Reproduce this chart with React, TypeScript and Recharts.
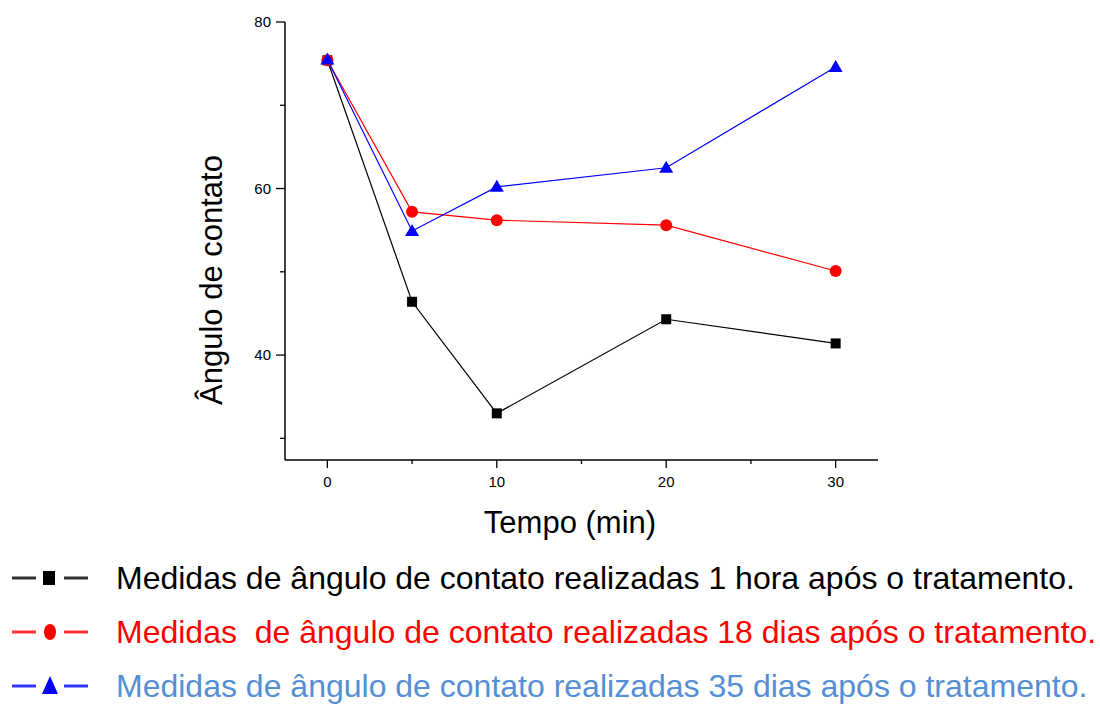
import { Line, LineChart, XAxis, YAxis } from 'recharts';

// tempo de espera (min) e ângulo de contato medido (graus)
const tempos = [0, 5, 10, 20, 30];
const medida1Hora = [75.4, 46.4, 33.0, 44.3, 41.4];
const medida18Dias = [75.4, 57.2, 56.2, 55.6, 50.1];
const medida35Dias = [75.5, 54.9, 60.2, 62.5, 74.6];

const yTicks = [30, 40, 50, 60, 70, 80];
const yLabeled = [40, 60, 80];
const xTicks = [0, 5, 10, 15, 20, 25, 30];
const xLabeled = [0, 10, 20, 30];

const legendItems = [
  { label: 'Medidas de ângulo de contato realizadas 1 hora após o tratamento.', line: '#000000', text: '#000000', shape: 'square' },
  { label: 'Medidas  de ângulo de contato realizadas 18 dias após o tratamento.', line: '#ff0000', text: '#ff0000', shape: 'circle' },
  { label: 'Medidas de ângulo de contato realizadas 35 dias após o tratamento.', line: '#0000ff', text: '#558ed5', shape: 'triangle' },
];

const data = tempos.map((t, i) => ({
  t,
  a: medida1Hora[i],
  b: medida18Dias[i],
  c: medida35Dias[i],
}));

const FONT = 'Arial, "Liberation Sans", sans-serif';

const SquareDot = (props: any) => {
  const { cx, cy, index } = props;
  if (cx == null || cy == null) return null;
  return <rect key={`s${index}`} x={cx - 5} y={cy - 5} width={10} height={10} fill="#000" />;
};

const CircleDot = (props: any) => {
  const { cx, cy, index } = props;
  if (cx == null || cy == null) return null;
  return <circle key={`c${index}`} cx={cx} cy={cy} r={6} fill="#ff0000" />;
};

const TriangleDot = (props: any) => {
  const { cx, cy, index } = props;
  if (cx == null || cy == null) return null;
  return (
    <polygon
      key={`t${index}`}
      points={`${cx},${cy - 7} ${cx - 7},${cy + 5} ${cx + 7},${cy + 5}`}
      fill="#0000ff"
    />
  );
};

const YTick = (props: any) => {
  const { x, y, payload } = props;
  const major = yLabeled.includes(payload.value);
  return (
    <g>
      <line x1={x} x2={x - (major ? 9 : 5)} y1={y} y2={y} stroke="#000" strokeWidth={1.3} />
      {major && (
        <text x={x - 14} y={y} dy={5} textAnchor="end" fontSize={15} fontFamily={FONT} fill="#000">
          {payload.value}
        </text>
      )}
    </g>
  );
};

const XTick = (props: any) => {
  const { x, y, payload } = props;
  const major = xLabeled.includes(payload.value);
  return (
    <g>
      <line x1={x} x2={x} y1={y} y2={y + (major ? 8 : 4)} stroke="#000" strokeWidth={1.3} />
      {major && (
        <text x={x} y={y + 27} textAnchor="middle" fontSize={15} fontFamily={FONT} fill="#000">
          {payload.value}
        </text>
      )}
    </g>
  );
};

function LegendMarker({ shape, color }: { shape: string; color: string }) {
  return (
    <svg width={80} height={24} style={{ position: 'absolute', left: 10, top: -12 }}>
      <line x1={2} x2={26} y1={12} y2={12} stroke={color} strokeWidth={3} opacity={0.8} />
      <line x1={54} x2={78} y1={12} y2={12} stroke={color} strokeWidth={3} opacity={0.8} />
      {shape === 'square' && <rect x={33} y={5} width={12} height={14} fill={color} />}
      {shape === 'circle' && <ellipse cx={40} cy={12} rx={6} ry={8} fill={color} />}
      {shape === 'triangle' && <polygon points="40,2 32,20 48,20" fill={color} />}
    </svg>
  );
}

export default function App() {
  return (
    <div style={{ position: 'absolute', left: 0, top: 0, width: 1100, height: 704, background: '#fff', fontFamily: FONT }}>
      <LineChart
        width={1100}
        height={500}
        data={data}
        margin={{ top: 22, right: 222, bottom: 0, left: 225 }}
      >
        <XAxis
          dataKey="t"
          type="number"
          domain={[-2.5, 32.5]}
          ticks={xTicks}
          interval={0}
          tick={<XTick />}
          tickLine={false}
          tickSize={0}
          tickMargin={0}
          height={40}
          axisLine={{ stroke: '#000', strokeWidth: 1.5 }}
        />
        <YAxis
          type="number"
          domain={[27.4, 80]}
          ticks={yTicks}
          interval={0}
          tick={<YTick />}
          tickLine={false}
          tickSize={0}
          tickMargin={0}
          width={60}
          allowDataOverflow
          axisLine={{ stroke: '#000', strokeWidth: 1.5 }}
        />
        <Line dataKey="a" stroke="#000" strokeWidth={1.2} dot={<SquareDot />} activeDot={false} isAnimationActive={false} />
        <Line dataKey="b" stroke="#ff0000" strokeWidth={1.2} dot={<CircleDot />} activeDot={false} isAnimationActive={false} />
        <Line dataKey="c" stroke="#0000ff" strokeWidth={1.2} dot={<TriangleDot />} activeDot={false} isAnimationActive={false} />
      </LineChart>

      {/* axis titles */}
      <div
        style={{
          position: 'absolute',
          left: 212,
          top: 280,
          transform: 'translate(-50%, -50%) rotate(-90deg)',
          whiteSpace: 'nowrap',
          fontSize: 31,
          color: '#000',
        }}
      >
        Ângulo de contato
      </div>
      <div
        style={{
          position: 'absolute',
          left: 570,
          top: 523,
          transform: 'translate(-50%, -50%)',
          whiteSpace: 'nowrap',
          fontSize: 31,
          color: '#000',
        }}
      >
        Tempo (min)
      </div>

      {/* legend */}
      {legendItems.map((item, i) => (
        <div key={item.label} style={{ position: 'absolute', left: 0, top: 578 + i * 54, width: 1100 }}>
          <LegendMarker shape={item.shape} color={item.line} />
          <div
            style={{
              position: 'absolute',
              left: 116,
              top: 0,
              transform: 'translateY(-50%)',
              whiteSpace: 'pre',
              fontSize: 32,
              lineHeight: '32px',
              color: item.text,
            }}
          >
            {item.label}
          </div>
        </div>
      ))}
    </div>
  );
}
